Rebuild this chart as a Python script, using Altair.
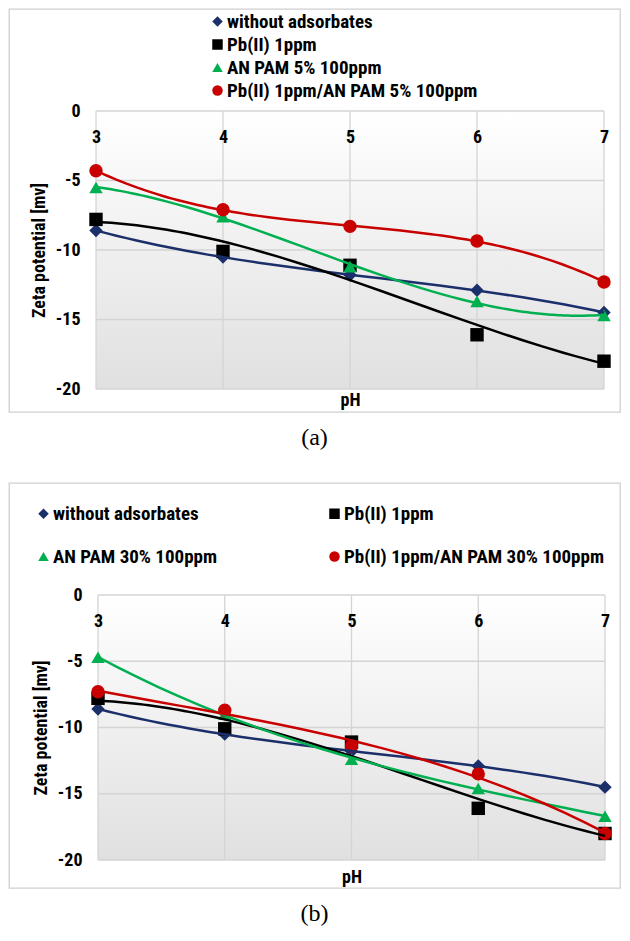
import altair as alt
import pandas as pd

# ---------------- data ----------------
ph = [3, 4, 5, 6, 7]
x_ticks = [3, 4, 5, 6, 7]
y_ticks = [0, -5, -10, -15, -20]

series_a = ["without adsorbates", "Pb(II) 1ppm", "AN PAM 5% 100ppm",
            "Pb(II) 1ppm/AN PAM 5% 100ppm"]
series_b = ["without adsorbates", "Pb(II) 1ppm", "AN PAM 30% 100ppm",
            "Pb(II) 1ppm/AN PAM 30% 100ppm"]

without_adsorbates = [-8.6, -10.5, -11.8, -12.9, -14.5]
pb_1ppm = [-7.8, -10.1, -11.1, -16.1, -18.0]
anpam5 = [-5.5, -7.6, -11.2, -13.7, -14.7]
pb_anpam5 = [-4.3, -7.1, -8.3, -9.35, -12.3]
anpam30 = [-4.7, -9.0, -12.4, -14.6, -16.7]
pb_anpam30 = [-7.3, -8.7, -11.4, -13.5, -18.0]

# ---------------- style ----------------
colors = ["#1b2f6b", "#000000", "#00b050", "#c80000"]
shapes = ["diamond", "square", "triangle-up", "circle"]
FONT = "Liberation Sans Narrow, Roboto Condensed, DejaVu Sans Condensed, sans-serif"
SERIF = "Liberation Serif, DejaVu Serif, Times New Roman, serif"
GRID = "#d4d4d4"


def panel(series, values, legend_order, W, H, px0, px1, py0, py1, legend, title_y, caption):
    rows = []
    for s, vals in zip(series, values):
        for x, v in zip(ph, vals):
            rows.append({"series": s, "pH": x, "zeta": v})
    df = pd.DataFrame(rows)

    dom = [series[i] for i in legend_order]
    col_rng = [colors[i] for i in legend_order]
    shp_rng = [shapes[i] for i in legend_order]

    xsc = alt.Scale(domain=[3, 7], range=[px0, px1], nice=False, zero=False)
    ysc = alt.Scale(domain=[-20, 0], range=[py1, py0], nice=False, zero=False)

    xaxis = alt.Axis(title="pH", orient="bottom", values=x_ticks, zindex=1,
                     offset=-(H - py0), labelPadding=17, labelFlush=False,
                     labelOverlap=False, titleY=title_y, titleBaseline="middle")
    yaxis = alt.Axis(title="Zeta potential [mv]", orient="left", values=y_ticks,
                     offset=-px0, labelPadding=16, titlePadding=7,
                     labelExpr="'' + datum.value")

    bg = alt.Chart(pd.DataFrame({"pH": [3], "pH2": [7], "zeta": [0], "zeta2": [-20]})).mark_rect(
        fill=alt.Gradient(gradient="linear",
                          stops=[alt.GradientStop(color="#ffffff", offset=0),
                                 alt.GradientStop(color="#e0e0e0", offset=1)],
                          x1=0, x2=0, y1=0, y2=1)
    ).encode(
        x=alt.X("pH:Q", scale=xsc, axis=xaxis), x2="pH2:Q",
        y=alt.Y("zeta:Q", scale=ysc, axis=yaxis), y2="zeta2:Q",
    )

    vgrid = alt.Chart(pd.DataFrame({"pH": x_ticks})).mark_rule(color=GRID, strokeWidth=1.3).encode(
        x=alt.X("pH:Q", scale=xsc, axis=xaxis),
        y=alt.YDatum(0, scale=ysc, axis=yaxis), y2=alt.datum(-20),
    )
    hgrid = alt.Chart(pd.DataFrame({"zeta": y_ticks})).mark_rule(color=GRID, strokeWidth=1.3).encode(
        y=alt.Y("zeta:Q", scale=ysc, axis=yaxis),
        x=alt.XDatum(3, scale=xsc, axis=xaxis), x2=alt.datum(7),
    )

    pts = alt.Chart(df).mark_point(filled=True, size=180, opacity=1).encode(
        x=alt.X("pH:Q", scale=xsc, axis=xaxis),
        y=alt.Y("zeta:Q", scale=ysc, axis=yaxis),
        color=alt.Color("series:N", scale=alt.Scale(domain=dom, range=col_rng),
                        sort=dom, legend=legend),
        shape=alt.Shape("series:N", scale=alt.Scale(domain=dom, range=shp_rng),
                        sort=dom, legend=legend),
    )

    lines = []
    for s, c in zip(series, colors):
        lines.append(
            alt.Chart(df).transform_filter(alt.datum.series == s)
            .transform_regression("pH", "zeta", method="poly", order=3)
            .mark_line(color=c, strokeWidth=2.5)
            .encode(x=alt.X("pH:Q", scale=xsc, axis=xaxis),
                    y=alt.Y("zeta:Q", scale=ysc, axis=yaxis))
        )

    return alt.layer(bg, vgrid, hgrid, pts, *lines).properties(
        width=W, height=H,
        title=alt.TitleParams(caption, orient="bottom", offset=14, fontSize=24,
                              font=SERIF, fontWeight="normal", anchor="middle",
                              color="black"),
    )


legend_a = alt.Legend(title=None, orient="none", legendX=199, legendY=3,
                      columns=1, rowPadding=3, labelOffset=0)
legend_b = alt.Legend(title=None, orient="none", legendX=25, legendY=21,
                      columns=2, rowPadding=23, columnPadding=107, labelOffset=0)

pa = panel(series_a, [without_adsorbates, pb_1ppm, anpam5, pb_anpam5], [0, 1, 2, 3],
           611, 403, 87, 595, 102, 380, legend_a, 289, "(a)")
pb = panel(series_b, [without_adsorbates, pb_1ppm, anpam30, pb_anpam30], [0, 2, 1, 3],
           611, 405, 89, 596, 112, 377, legend_b, 282, "(b)")

chart = alt.vconcat(pa, pb, spacing=31).resolve_scale(
    x="independent", y="independent", color="independent", shape="independent"
).resolve_legend(color="independent", shape="independent").properties(
    padding=0
).configure_view(
    stroke="#d0d0d0", strokeWidth=1.3
).configure_axis(
    labelFont=FONT, labelFontSize=18, labelFontWeight="bold", labelColor="black",
    titleFont=FONT, titleFontSize=18, titleFontWeight="bold", titleColor="black",
    ticks=False, tickSize=0, domain=False, grid=False,
).configure_legend(
    labelFont=FONT, labelFontSize=19, labelFontWeight="bold", labelColor="black",
    symbolSize=110, symbolStrokeWidth=0, labelLimit=400,
)

chart.save("out.html", embed_options={"renderer": "svg", "actions": False})
